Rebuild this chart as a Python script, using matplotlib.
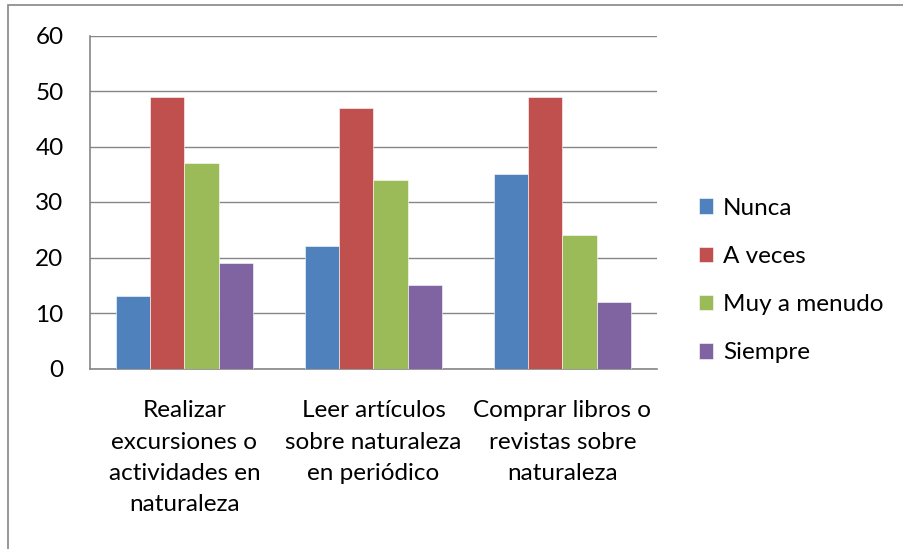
import numpy as np
import matplotlib.pyplot as plt
from matplotlib.patches import Rectangle

categories = ["Realizar\nexcursiones o\nactividades en\nnaturaleza",
              "Leer artículos\nsobre naturaleza\nen periódico",
              "Comprar libros o\nrevistas sobre\nnaturaleza"]
series = ["Nunca", "A veces", "Muy a menudo", "Siempre"]
nunca = [13, 22, 35]
a_veces = [49, 47, 49]
muy_a_menudo = [37, 34, 24]
siempre = [19, 15, 12]
values = [nunca, a_veces, muy_a_menudo, siempre]
colors = ["#4F81BD", "#C0504D", "#9BBB59", "#8064A2"]

plt.rcParams['font.family'] = ['Lato', 'DejaVu Sans']

W, H = 904, 549
fig = plt.figure(figsize=(W / 100, H / 100), dpi=100)

# outer chart frame (right and bottom edges fall outside the picture)
fig.patches.append(Rectangle((8 / W, -0.1), 1.2, 1 - 5 / H + 0.1,
                             transform=fig.transFigure, fill=False,
                             edgecolor="#868686", linewidth=1.2))

ax = fig.add_axes([90 / W, 1 - 368.5 / H, (657 - 90) / W, (368.5 - 35.5) / H])

x = np.arange(len(categories))
w = 1 / 5.5
for i, (name, vals) in enumerate(zip(series, values)):
    ax.bar(x + (i - 1.5) * w, vals, width=w, color=colors[i], label=name,
           edgecolor="white", linewidth=0.4, zorder=3)

ax.set_xlim(-0.5, 2.5)
ax.set_ylim(0, 60)
ax.set_yticks(range(0, 61, 10))
ax.yaxis.grid(True, color="#868686", linewidth=1.0, zorder=0)
for s in ["top", "right"]:
    ax.spines[s].set_visible(False)
for s in ["left", "bottom"]:
    ax.spines[s].set_color("#868686")
    ax.spines[s].set_linewidth(1.2)
ax.tick_params(axis="y", length=0, pad=19, labelsize=17.5)
ax.tick_params(axis="x", length=0, pad=23, labelsize=17.5)
ax.set_xticks(x)
ax.set_xticklabels(categories, linespacing=1.6)

leg = ax.legend(loc="center left", bbox_to_anchor=(1.035, 0.264), frameon=False,
                fontsize=17.5, handlelength=0.6, handleheight=0.6,
                labelspacing=1.12, handletextpad=0.4)

fig.savefig("out.png", dpi=100)
